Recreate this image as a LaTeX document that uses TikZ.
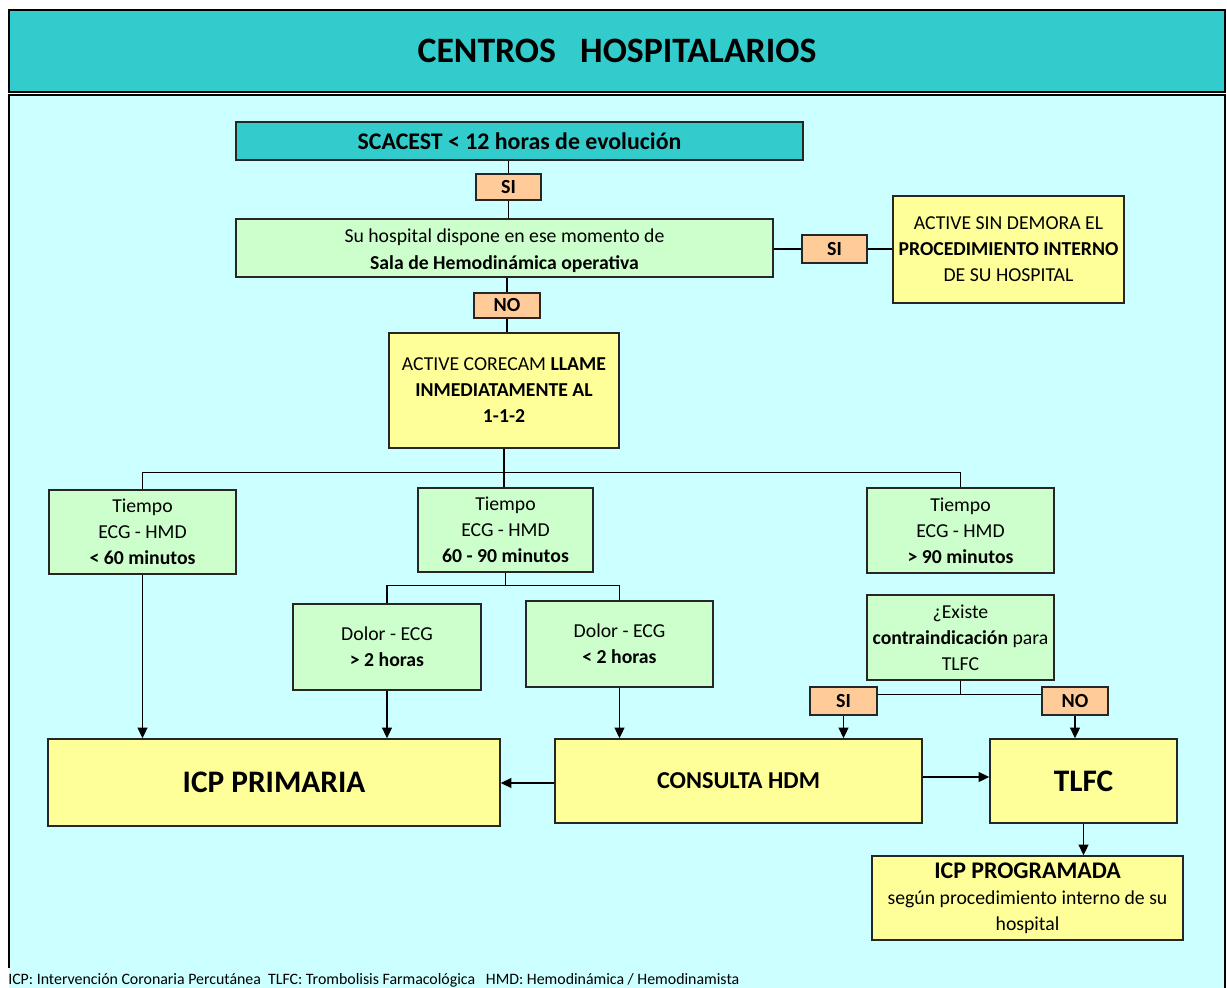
\documentclass[tikz,border=0pt]{standalone}
\usepackage{fontspec}
\setmainfont{Carlito}
\usetikzlibrary{arrows.meta}
\definecolor{tealc}{HTML}{33CCCC}
\definecolor{panelc}{HTML}{CCFFFF}
\definecolor{greenc}{HTML}{CCFFCC}
\definecolor{yellowc}{HTML}{FFFF99}
\definecolor{peachc}{HTML}{FFCC99}
\newcommand\mybox[7]{\node[#2, minimum width={(#5-#3)*0.75pt}, minimum height={(#6-#4)*0.75pt}] (#1) at ({(#3+#5)/2},{(#4+#6)/2}) {#7};}
\begin{document}
\begin{tikzpicture}[x=0.75pt,y=-0.75pt,
  box/.style={draw=black!85, line width=1.2pt, inner sep=0pt, align=center,
    font=\fontsize{14.8}{19.5}\selectfont},
  gbox/.style={box, fill=greenc},
  ybox/.style={box, fill=yellowc},
  lab/.style={draw=black!85, line width=1pt, fill=peachc, inner sep=0pt,
    font=\bfseries\fontsize{15}{17}\selectfont},
  conn/.style={draw=black, line width=1pt},
  arr/.style={conn, -{Triangle[length=8pt,width=7.5pt]}}]
\useasboundingbox (0,0) rectangle (1227,988);
\clip (0,0) rectangle (1227,988);
\fill[white] (0,0) rectangle (1227,988);
\fill[panelc] (9,95) rectangle (1225,995);
\draw[line width=2pt] (9,968) -- (9,95) -- (1225,95) -- (1225,995);
\mybox{title}{draw, line width=2pt, fill=tealc, inner sep=0pt, font=\fontsize{26.8}{31}\selectfont\bfseries}{9}{10}{1225}{92}{CENTROS\ \ \ HOSPITALARIOS}

% top chain
\mybox{scacest}{box, fill=tealc, font=\bfseries\fontsize{17.9}{21}\selectfont}{236}{122}{803}{160}{SCACEST < 12 horas de evolución}
\mybox{si1}{lab}{476}{174}{541}{200}{SI}
\mybox{sala}{gbox, font=\fontsize{14.8}{20.5}\selectfont}{236}{219}{773}{277}{\rule{0pt}{14pt}Su hospital dispone en ese momento de\\ \textbf{Sala de Hemodinámica operativa}}
\mybox{si2}{lab}{802}{235}{867}{263}{SI}
\mybox{active}{ybox}{893}{196}{1124}{303}{ACTIVE SIN DEMORA EL\\ \textbf{PROCEDIMIENTO INTERNO}\\ DE SU HOSPITAL}
\mybox{no1}{lab}{474}{293}{540}{318}{NO}
\mybox{corecam}{ybox}{389}{333}{619}{448}{ACTIVE CORECAM \textbf{LLAME}\\ \textbf{INMEDIATAMENTE AL}\\ \textbf{1-1-2}}

% time boxes
\mybox{lt60}{gbox}{49}{490}{236}{574}{Tiempo\\ ECG - HMD\\ \textbf{< 60 minutos}}
\mybox{m6090}{gbox}{418}{488}{593}{572}{Tiempo\\ ECG - HMD\\ \textbf{60 - 90 minutos}}
\mybox{gt90}{gbox}{867}{488}{1054}{573}{Tiempo\\ ECG - HMD\\ \textbf{> 90 minutos}}
\mybox{dgt2}{gbox}{293}{604}{481}{690}{Dolor - ECG\\ \textbf{> 2 horas}}
\mybox{dlt2}{gbox}{526}{601}{713}{687}{Dolor - ECG\\ \textbf{< 2 horas}}
\mybox{existe}{gbox}{867}{595}{1054}{680}{¿Existe\\ \textbf{contraindicación} para\\ TLFC}
\mybox{si3}{lab}{810}{687}{877}{715}{SI}
\mybox{no3}{lab}{1042}{687}{1108}{715}{NO}

% bottom boxes
\mybox{icp}{ybox, font=\bfseries\fontsize{23.5}{28}\selectfont}{48}{739}{500}{826}{ICP PRIMARIA}
\mybox{consulta}{ybox, font=\bfseries\fontsize{18.2}{21}\selectfont}{555}{739}{922}{823}{CONSULTA HDM}
\mybox{tlfc}{ybox, font=\bfseries\fontsize{23.5}{28}\selectfont}{990}{739}{1177}{823}{TLFC}
\mybox{prog}{ybox}{872}{856}{1183}{940}{{\bfseries\fontsize{17.9}{22}\selectfont ICP PROGRAMADA}\\ según procedimiento interno de su\\ hospital}

% footnote
\node[anchor=base west, inner sep=0pt, font=\fontsize{11.9}{14}\selectfont] (foot) at (8,984) {ICP: Intervención Coronaria Percutánea\ \ TLFC: Trombolisis Farmacológica\ \ \ HMD: Hemodinámica / Hemodinamista};

% connectors
\draw[conn] (si1.north |- scacest.south) -- (si1.north);
\draw[conn] (si1.south) -- (si1.south |- sala.north);
\draw[conn] (no1.north |- sala.south) -- (no1.north);
\draw[conn] (no1.south) -- (no1.south |- corecam.north);
\draw[conn] (sala.east |- si2.west) -- (si2.west);
\draw[conn] (si2.east) -- (si2.east -| active.west);

\draw[conn] (corecam.south) -- ++(0,24) coordinate (j1);
\draw[conn] (lt60.north) -- (lt60.north |- j1) -- (gt90.north |- j1) -- (gt90.north);
\draw[conn] (j1) -- (j1 |- m6090.north);

\draw[conn] (m6090.south) -- ++(0,13) coordinate (j2);
\draw[conn] (dgt2.north) -- (dgt2.north |- j2) -- (dlt2.north |- j2) -- (dlt2.north);

\draw[conn] (existe.south) -- ++(0,14) coordinate (j3);
\draw[conn] (si3.east |- j3) -- (no3.west |- j3);

\draw[arr] (lt60.south) -- (lt60.south |- icp.north);
\draw[arr] (dgt2.south) -- (dgt2.south |- icp.north);
\draw[arr] (dlt2.south) -- (dlt2.south |- consulta.north);
\draw[arr] (si3.south) -- (si3.south |- consulta.north);
\draw[arr] (no3.south) -- (no3.south |- tlfc.north);
\draw[arr] ([yshift=-1.5pt]consulta.west) -- ([yshift=-1.5pt]consulta.west -| icp.east);
\draw[arr] ([yshift=3pt]consulta.east) -- ([yshift=3pt]consulta.east -| tlfc.west);
\draw[arr] (tlfc.south) -- (tlfc.south |- prog.north);
\end{tikzpicture}
\end{document}
